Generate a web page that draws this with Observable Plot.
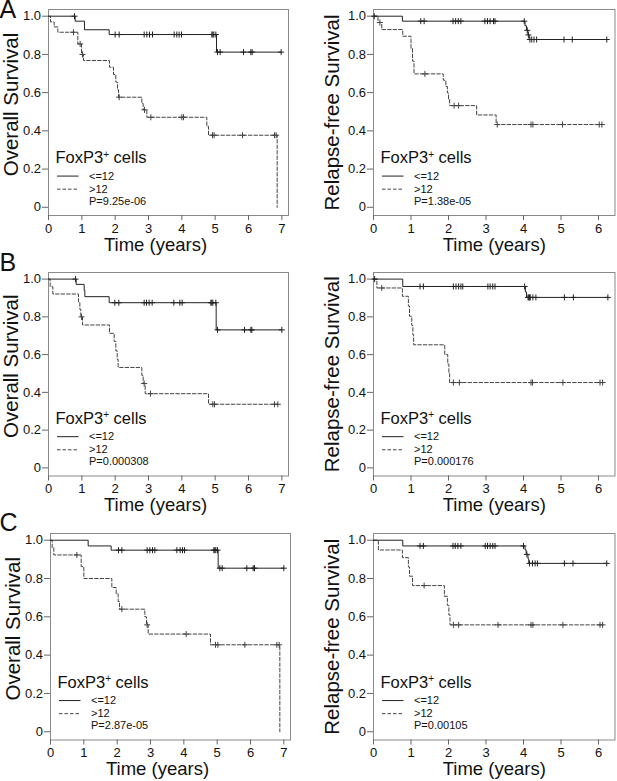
<!DOCTYPE html>
<html>
<head>
<meta charset="utf-8">
<script src="https://cdn.jsdelivr.net/npm/d3@7"></script>
<script src="https://cdn.jsdelivr.net/npm/@observablehq/plot@0.6"></script>
<style>
  html, body { margin: 0; padding: 0; background: #fff; }
  #wrap { position: relative; width: 617px; height: 781px; overflow: hidden; background: #fff; }
  .panel { position: absolute; }
  .panel svg { display: block; }
  #letters { position: absolute; left: 0; top: 0; pointer-events: none; }
</style>
</head>
<body>
<div id="wrap"></div>
<script>
// ---------- labels ----------
const leftXTicks = [0, 1, 2, 3, 4, 5, 6, 7];
const rightXTicks = [0, 1, 2, 3, 4, 5, 6];
const yTicks = [0, 0.2, 0.4, 0.6, 0.8, 1.0];
const groupLabels = ["<=12", ">12"];
const legendTitleMain = "FoxP3";
const legendTitleSup = "+";
const legendTitleRest = " cells";
const panelLetters = ["A", "B", "C"];
const yLabels = ["Overall Survival", "Relapse-free Survival"];
const xLabel = "Time (years)";
const pValues = ["P=9.25e-06", "P=1.38e-05", "P=0.000308", "P=0.000176", "P=2.87e-05", "P=0.00105"];

// ---------- data: step times (T), survival (S), censor times (C) ----------
// A, overall survival
const aOsLowT = [0, 0.8, 1.08, 1.82, 5.04];
const aOsLowS = [1, 0.974, 0.929, 0.904, 0.812];
const aOsLowC = [0.78, 2.0, 2.12, 2.87, 2.95, 3.03, 3.12, 3.77, 3.85, 3.92, 3.99, 4.9, 4.93, 4.96, 5.02, 5.07, 5.15, 5.85, 6.07, 6.11, 6.98];
const aOsHighT = [0, 0.06, 0.17, 0.28, 0.88, 0.99, 1.05, 1.83, 1.95, 2.02, 2.07, 2.1, 2.8, 2.84, 2.95, 4.75, 4.8, 6.86];
const aOsHighS = [1, 0.97, 0.944, 0.916, 0.855, 0.80, 0.768, 0.733, 0.695, 0.655, 0.615, 0.576, 0.543, 0.51, 0.471, 0.424, 0.377, 0];
const aOsHighC = [0.75, 0.95, 1.02, 2.12, 2.88, 3.07, 4.0, 4.05, 4.92, 4.97, 5.82, 6.78, 6.83];
// A, relapse-free survival
const aRfsLowT = [0, 0.77, 4.04, 4.08, 4.12, 4.15];
const aRfsLowS = [1, 0.974, 0.95, 0.926, 0.902, 0.878];
const aRfsLowC = [0.02, 1.26, 1.35, 2.12, 2.19, 2.26, 2.33, 2.97, 3.04, 3.11, 3.2, 3.24, 4.02, 4.1, 4.13, 4.17, 4.22, 4.28, 4.35, 5.08, 5.3, 6.22];
const aRfsHighT = [0, 0.12, 0.22, 0.78, 1.0, 1.04, 1.08, 1.86, 1.93, 1.97, 2.0, 2.03, 2.75, 3.27];
const aRfsHighS = [1, 0.967, 0.93, 0.895, 0.83, 0.765, 0.698, 0.665, 0.632, 0.598, 0.565, 0.532, 0.483, 0.433];
const aRfsHighC = [0.17, 1.37, 2.15, 2.27, 3.3, 4.2, 4.25, 5.04, 6.02, 6.09];
// B, overall survival
const bOsLowT = [0, 0.83, 1.07, 1.09, 1.82, 5.03];
const bOsLowS = [1, 0.972, 0.94, 0.907, 0.875, 0.731];
const bOsLowC = [0.81, 1.99, 2.11, 2.87, 2.94, 3.02, 3.11, 3.76, 3.94, 4.01, 4.87, 4.9, 4.93, 5.02, 5.07, 5.88, 6.07, 6.1, 7.0];
const bOsHighT = [0, 0.05, 0.13, 0.9, 0.94, 0.97, 1.02, 1.83, 1.97, 2.02, 2.06, 2.09, 2.8, 2.84, 2.9, 4.8];
const bOsHighS = [1, 0.96, 0.921, 0.88, 0.84, 0.80, 0.757, 0.713, 0.67, 0.62, 0.575, 0.532, 0.49, 0.447, 0.393, 0.337];
const bOsHighC = [0.99, 2.87, 3.06, 4.93, 4.98, 6.78, 6.88];
// B, relapse-free survival
const bRfsLowT = [0, 0.78, 4.05, 4.08];
const bRfsLowS = [1, 0.961, 0.932, 0.903];
const bRfsLowC = [0.03, 1.24, 1.33, 2.13, 2.2, 2.27, 2.33, 2.38, 3.05, 3.11, 3.18, 3.24, 4.03, 4.12, 4.14, 4.16, 4.18, 4.25, 4.33, 5.09, 5.33, 6.25];
const bRfsHighT = [0, 0.09, 0.77, 0.93, 0.96, 1.02, 1.05, 1.07, 1.9, 1.98, 2.01, 2.03];
const bRfsHighS = [1, 0.953, 0.909, 0.857, 0.803, 0.755, 0.705, 0.652, 0.6, 0.55, 0.5, 0.452];
const bRfsHighC = [0.22, 2.13, 2.29, 4.2, 4.24, 5.05, 6.04, 6.11];
// C, overall survival
const cOsLowT = [0, 1.13, 1.82, 5.03];
const cOsLowS = [1, 0.97, 0.948, 0.854];
const cOsLowC = [2.04, 2.14, 2.9, 2.98, 3.06, 3.13, 3.79, 3.89, 3.96, 4.02, 4.9, 4.93, 4.96, 5.01, 5.08, 5.15, 5.89, 6.08, 6.12, 7.0];
const cOsHighT = [0, 0.05, 0.1, 0.92, 1.0, 1.84, 1.97, 2.03, 2.07, 2.83, 2.88, 2.93, 4.8, 6.88];
const cOsHighS = [1, 0.96, 0.923, 0.862, 0.80, 0.753, 0.72, 0.68, 0.64, 0.6, 0.558, 0.51, 0.454, 0];
const cOsHighC = [0.79, 2.14, 2.9, 4.07, 4.95, 5.02, 5.83, 6.79, 6.86];
// C, relapse-free survival
const cRfsLowT = [0, 0.78, 4.04, 4.07, 4.12, 4.14];
const cRfsLowS = [1, 0.97, 0.95, 0.926, 0.903, 0.879];
const cRfsLowC = [1.24, 1.33, 2.12, 2.18, 2.25, 2.33, 2.98, 3.04, 3.11, 3.18, 3.24, 4.0, 4.09, 4.16, 4.24, 4.31, 4.37, 5.09, 5.32, 6.22];
const cRfsHighT = [0, 0.13, 0.77, 0.93, 0.96, 1.04, 1.89, 1.97, 2.01, 2.04];
const cRfsHighS = [1, 0.949, 0.909, 0.86, 0.812, 0.763, 0.707, 0.66, 0.61, 0.558];
const cRfsHighC = [1.35, 2.13, 2.27, 3.32, 4.2, 4.25, 5.05, 6.04, 6.11];

// ---------- styling ----------
const FONT = "'Liberation Sans', Arial, Helvetica, sans-serif";
const SOLID = "#222";
const DASHED = "#444";
const DASH = "3.5,2";
const FRAME = "#8a8a8a";

function curve(T, S, C) {
  const pts = T.map((t, i) => ({t, s: S[i]}));
  const survAt = c => { let s = 1; for (let i = 0; i < T.length; i++) if (T[i] <= c) s = S[i]; return s; };
  const cens = C.map(c => ({t: c, s: survAt(c)}));
  const end = Math.max(T[T.length - 1], C.length ? C[C.length - 1] : 0);
  if (end > T[T.length - 1]) pts.push({t: end, s: S[S.length - 1]});
  return {pts, cens};
}

function legendMark(pText) {
  return (index, scales, values, dims) => {
    const x0 = scales.x(0), y0 = scales.y(0);
    const g = d3.create("svg:g").attr("font-family", FONT).attr("fill", "#111").attr("text-anchor", "start");
    const t = g.append("text").attr("x", x0 + 7.5).attr("y", y0 - 43.4).attr("font-size", 16.5);
    t.append("tspan").text(legendTitleMain);
    t.append("tspan").attr("font-size", 10).attr("dy", -5.5).text(legendTitleSup);
    t.append("tspan").attr("dy", 5.5).text(legendTitleRest);
    g.append("line").attr("x1", x0 + 9).attr("x2", x0 + 30.5).attr("y1", y0 - 30.7).attr("y2", y0 - 30.7)
      .attr("stroke", SOLID).attr("stroke-width", 1);
    g.append("line").attr("x1", x0 + 9).attr("x2", x0 + 30.5).attr("y1", y0 - 17.6).attr("y2", y0 - 17.6)
      .attr("stroke", DASHED).attr("stroke-width", 1).attr("stroke-dasharray", DASH);
    g.append("text").attr("x", x0 + 41).attr("y", y0 - 27.2).attr("font-size", 11).text(groupLabels[0]);
    g.append("text").attr("x", x0 + 41).attr("y", y0 - 14.2).attr("font-size", 11).text(groupLabels[1]);
    g.append("text").attr("x", x0 + 41).attr("y", y0 - 2.0).attr("font-size", 11).text(pText);
    return g.node();
  };
}

const rows = [
  {top: 0, frameH: 206, leftShift: 0, os: [aOsLowT, aOsLowS, aOsLowC, aOsHighT, aOsHighS, aOsHighC], rfs: [aRfsLowT, aRfsLowS, aRfsLowC, aRfsHighT, aRfsHighS, aRfsHighC]},
  {top: 262.5, frameH: 203.5, leftShift: 0, os: [bOsLowT, bOsLowS, bOsLowC, bOsHighT, bOsHighS, bOsHighC], rfs: [bRfsLowT, bRfsLowS, bRfsLowC, bRfsHighT, bRfsHighS, bRfsHighC]},
  {top: 524.3, frameH: 206.5, leftShift: 2, os: [cOsLowT, cOsLowS, cOsLowC, cOsHighT, cOsHighS, cOsHighC], rfs: [cRfsLowT, cRfsLowS, cRfsLowC, cRfsHighT, cRfsHighS, cRfsHighC]}
];

const types = [
  {width: 300, ml: 48, mr: 12, xMax: 7.2, ticks: leftXTicks, yl: yLabels[0], ylDx: -31, ylDy: -8, xlDx: -13},
  {width: 312, ml: 68, mr: 2.5, xMax: 6.44, ticks: rightXTicks, yl: yLabels[1], ylDx: -35, ylDy: 0, xlDx: 0}
];

const wrap = document.getElementById("wrap");
const MT = 9, MB = 45;

rows.forEach((row, r) => {
  [row.os, row.rfs].forEach((d, k) => {
    const ty = types[k];
    const low = curve(d[0], d[1], d[2]);
    const high = curve(d[3], d[4], d[5]);
    const plot = Plot.plot({
      width: ty.width,
      height: MT + row.frameH + MB,
      marginLeft: ty.ml, marginRight: ty.mr, marginTop: MT, marginBottom: MB,
      x: {domain: [0, ty.xMax]},
      y: {domain: [-0.043, 1.035]},
      style: {fontFamily: FONT, color: "#111", background: "transparent", overflow: "visible"},
      marks: [
        Plot.frame({stroke: FRAME, strokeWidth: 1}),
        Plot.axisX({ticks: ty.ticks, tickSize: 5, tickPadding: 3, fontSize: 13, label: null, stroke: "#666", tickFormat: d => String(d)}),
        Plot.axisY({ticks: yTicks, tickSize: 6, tickPadding: 1.5, fontSize: 13, label: null, stroke: "#666",
          tickFormat: v => v === 0 ? "0" : v.toFixed(1)}),
        Plot.line(high.pts, {x: "t", y: "s", curve: "step-after", stroke: DASHED, strokeWidth: 1, strokeDasharray: DASH}),
        Plot.line(low.pts, {x: "t", y: "s", curve: "step-after", stroke: SOLID, strokeWidth: 1}),
        Plot.dot(high.cens, {x: "t", y: "s", symbol: "plus", r: 2.1, stroke: DASHED, fill: "none", strokeWidth: 1}),
        Plot.dot(low.cens, {x: "t", y: "s", symbol: "plus", r: 2.1, stroke: SOLID, fill: "none", strokeWidth: 1}),
        Plot.text([ty.yl], {frameAnchor: "left", rotate: -90, dx: ty.ylDx, dy: ty.ylDy, textAnchor: "middle", lineAnchor: "bottom", fontSize: 20.5, fill: "#111"}),
        Plot.text([xLabel], {frameAnchor: "bottom", dx: ty.xlDx, dy: 35.3, textAnchor: "middle", lineAnchor: "bottom", fontSize: 18.5, fill: "#111"}),
        legendMark(pValues[r * 2 + k])
      ]
    });
    const div = document.createElement("div");
    div.className = "panel";
    div.style.left = (k === 0 ? row.leftShift : 305) + "px";
    div.style.top = row.top + "px";
    div.appendChild(plot);
    wrap.appendChild(div);
  });
});

// panel letters overlay
const letterBaselines = [18, 271, 531];
const ov = d3.create("svg").attr("id", "letters").attr("width", 617).attr("height", 781)
  .attr("font-family", FONT).attr("fill", "#111");
panelLetters.forEach((L, i) => {
  ov.append("text").attr("x", -0.5).attr("y", letterBaselines[i]).attr("font-size", 25).text(L);
});
wrap.appendChild(ov.node());
</script>
</body>
</html>
